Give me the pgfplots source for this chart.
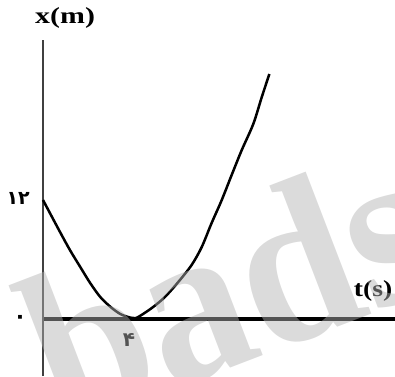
\documentclass[border=0pt]{standalone}
\usepackage{pgfplots}
\pgfplotsset{compat=1.18}
\usepackage{fontspec}
\setmainfont{Liberation Serif}
\newfontfamily\fadigits[Script=Arabic]{DejaVu Sans}
\definecolor{wmark}{RGB}{178,178,178}

\begin{document}
\begin{tikzpicture}
  % page = 395 x 376, axis origin at image pixel (43,319)
  \useasboundingbox (-43pt,0pt) rectangle (352pt,376pt);
  \clip (-43pt,0pt) rectangle (352pt,376pt);
  \begin{axis}[
    scale only axis,
    width=352pt, height=336pt,
    xmin=0, xmax=15.3,
    ymin=-5.7, ymax=27.9,
    axis lines=middle,
    axis line style={-},
    x axis line style={line width=3.5pt, black},
    y axis line style={line width=2pt, black!75},
    ticks=none,
    clip=false,
  ]
    \addplot[smooth, tension=0.5, line width=2.5pt, black] coordinates {
      (0,11.9) (0.30,10.6) (0.74,8.7) (1.17,6.9) (1.62,5.2) (2.05,3.6)
      (2.49,2.2) (2.94,1.2) (3.36,0.5) (3.78,0.15) (3.98,0.1) (4.14,0.2)
      (4.73,1.1) (5.30,2.2) (5.88,3.7) (6.46,5.4) (6.90,7.2) (7.33,9.6)
      (7.77,11.9) (8.20,14.4) (8.64,16.9) (9.14,19.5) (9.51,22.2)
      (9.84,24.5)
    };
    \node[font=\fontsize{23}{23}\selectfont\bfseries, xscale=1.3]
      at (axis cs:0.96,30.1) {x(m)};
    \node[font=\fontsize{23}{23}\selectfont\bfseries, xscale=1.2]
      at (axis cs:14.35,2.8) {t(s)};
    \node[font=\fontsize{19}{19}\selectfont\fadigits\bfseries]
      at (axis cs:-1.08,12.1) {۱۲};
    \node[font=\fontsize{22}{22}\selectfont\fadigits\bfseries]
      at (axis cs:-1.0,-0.05) {۰};
    \node[font=\fontsize{20}{20}\selectfont\fadigits\bfseries]
      at (axis cs:3.74,-2.1) {۴};
    % watermark
    \node[rotate=21, xscale=0.92, anchor=base west, inner sep=0pt,
      text=wmark, opacity=0.47,
      font=\fontsize{225}{225}\selectfont\bfseries]
      at (axis cs:0.83,-11.4) {bads};
  \end{axis}
\end{tikzpicture}
\end{document}
